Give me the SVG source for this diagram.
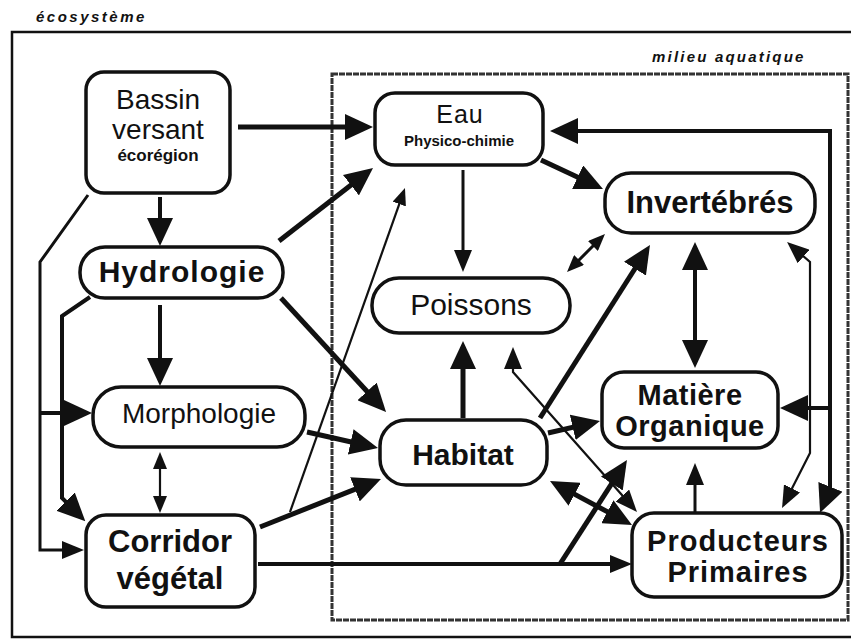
<svg xmlns="http://www.w3.org/2000/svg" width="851" height="641" viewBox="0 0 851 641">
<style>
  .box{fill:#fff;stroke:#111;stroke-width:3.5}
  .t{font-family:"Liberation Sans",Arial,sans-serif;fill:#111;text-anchor:middle}
  .b{font-weight:bold}
  .lbl{font-family:"Liberation Sans",Arial,sans-serif;font-weight:bold;font-style:italic;fill:#111;font-size:15px}
  .c{fill:none;stroke:#111;stroke-linejoin:miter}
  .w5{stroke-width:5}
  .w4{stroke-width:4}
  .w3{stroke-width:3}
  .w2{stroke-width:2.2}
  .eb{marker-end:url(#hb)}
  .em{marker-end:url(#hm)}
  .es{marker-end:url(#hs)}
  .sb{marker-start:url(#hb)}
  .sm{marker-start:url(#hm)}
  .ss{marker-start:url(#hs)}
</style>
<defs>
  <marker id="hb" viewBox="0 0 28 26" refX="12" refY="13" markerWidth="28" markerHeight="26" markerUnits="userSpaceOnUse" orient="auto-start-reverse"><path d="M0,0 L28,13 L0,26 z" fill="#111"/></marker>
  <marker id="hm" viewBox="0 0 22 18" refX="8" refY="9" markerWidth="22" markerHeight="18" markerUnits="userSpaceOnUse" orient="auto-start-reverse"><path d="M0,0 L22,9 L0,18 z" fill="#111"/></marker>
  <marker id="hs" viewBox="0 0 17 14" refX="6" refY="7" markerWidth="17" markerHeight="14" markerUnits="userSpaceOnUse" orient="auto-start-reverse"><path d="M0,0 L17,7 L0,14 z" fill="#111"/></marker>
</defs>
<rect width="851" height="641" fill="#fff"/>
<g id="frames">
  <text class="lbl" x="36" y="22" letter-spacing="2.5">écosystème</text>
  <rect x="12" y="32" width="850" height="605" fill="none" stroke="#111" stroke-width="2.5"/>
  <rect x="332" y="74" width="516" height="546" fill="none" stroke="#333" stroke-width="3" stroke-dasharray="6 1"/>
  <text class="lbl" x="652" y="62" letter-spacing="2.2">milieu aquatique</text>
</g>
<g id="connectors">
  <path class="c w5 eb" d="M238,127 L357,127"/>
  <path class="c w4 eb" d="M160,197 L160,230"/>
  <path class="c w3 em" d="M88,195 L40,262 L40,550 L70,550"/>
  <path class="c w4 eb" d="M40,413 L76,413"/>
  <path class="c w4 eb" d="M90,297 L62,316 L62,498 L74,510"/>
  <path class="c w4 eb" d="M160,305 L160,370"/>
  <path class="c w2 ss es" d="M160,463 L160,502"/>
  <path class="c w5 eb" d="M279,241 L360.4,177.8"/>
  <path class="c w5 eb" d="M281,298 L375.2,400.2"/>
  <path class="c w5 eb" d="M307,432 L362.4,444.5"/>
  <path class="c w5 eb" d="M260,527 L366.1,484.9"/>
  <path class="c w2 es" d="M290,512 L401.3,198.4"/>
  <path class="c w4 em" d="M258,564 L618,564"/>
  <path class="c w5 eb" d="M560,564 L618.3,473.4"/>
  <path class="c w5 eb" d="M463,418 L463,357"/>
  <path class="c w3 em" d="M463,170 L463,258"/>
  <path class="c w2 sm em" d="M513,361 L513,372 L627.7,501.5"/>
  <path class="c w5 eb" d="M540,418 L641.4,258.5"/>
  <path class="c w3 ss es" d="M597.2,241.8 L574.8,264.2"/>
  <path class="c w5 eb" d="M541,160 L588.5,182.2"/>
  <path class="c w4 sb eb" d="M695,258 L695,352"/>
  <path class="c w4 eb" d="M830,492 L830,131 L566,131"/>
  <path class="c w4 eb" d="M830,488 L826,498"/>
  <path class="c w4 eb" d="M830,408 L796,408"/>
  <path class="c w2 sm em" d="M797.6,251.2 L810,262 L810,453 L788.4,495.5"/>
  <path class="c w3 em" d="M695,513 L695,477"/>
  <path class="c w5 sb eb" d="M564.1,488.6 L617.9,517.4"/>
  <path class="c w5 eb" d="M548,433 L584.4,424.6"/>
</g>
<g id="bassin">
  <rect class="box" x="86" y="72" width="144" height="121" rx="18"/>
  <text class="t" x="158" y="109" font-size="28">Bassin</text>
  <text class="t" x="158" y="139" font-size="28">versant</text>
  <text class="t b" x="158" y="161" font-size="17">écorégion</text>
</g>
<g id="hydrologie">
  <rect class="box" x="80" y="247" width="203" height="51" rx="25"/>
  <text class="t b" x="182" y="282" font-size="30" letter-spacing="1">Hydrologie</text>
</g>
<g id="morphologie">
  <rect class="box" x="93" y="387" width="212" height="60" rx="28"/>
  <text class="t" x="199" y="423" font-size="28">Morphologie</text>
</g>
<g id="corridor">
  <rect class="box" x="86" y="515" width="169" height="92" rx="20"/>
  <text class="t b" x="170" y="552" font-size="31">Corridor</text>
  <text class="t b" x="170" y="589" font-size="31">végétal</text>
</g>
<g id="eau">
  <rect class="box" x="375" y="93" width="168" height="72" rx="20"/>
  <text class="t" x="460" y="123" font-size="25" letter-spacing="1">Eau</text>
  <text class="t b" x="459" y="146" font-size="15">Physico-chimie</text>
</g>
<g id="invertebres">
  <rect class="box" x="605" y="173" width="210" height="60" rx="26"/>
  <text class="t b" x="710" y="213" font-size="31">Invertébrés</text>
</g>
<g id="poissons">
  <rect class="box" x="372" y="278" width="198" height="55" rx="27"/>
  <text class="t" x="471" y="315" font-size="30">Poissons</text>
</g>
<g id="habitat">
  <rect class="box" x="380" y="420" width="167" height="65" rx="26"/>
  <text class="t b" x="463" y="465" font-size="30">Habitat</text>
</g>
<g id="matiere">
  <rect class="box" x="602" y="372" width="176" height="76" rx="22"/>
  <text class="t b" x="690" y="405" font-size="29" letter-spacing="0.5">Matière</text>
  <text class="t b" x="690" y="436" font-size="29" letter-spacing="0.5">Organique</text>
</g>
<g id="producteurs">
  <rect class="box" x="632" y="513" width="210" height="84" rx="22"/>
  <text class="t b" x="738" y="551" font-size="29" letter-spacing="1">Producteurs</text>
  <text class="t b" x="738" y="582" font-size="29" letter-spacing="1">Primaires</text>
</g>
</svg>
